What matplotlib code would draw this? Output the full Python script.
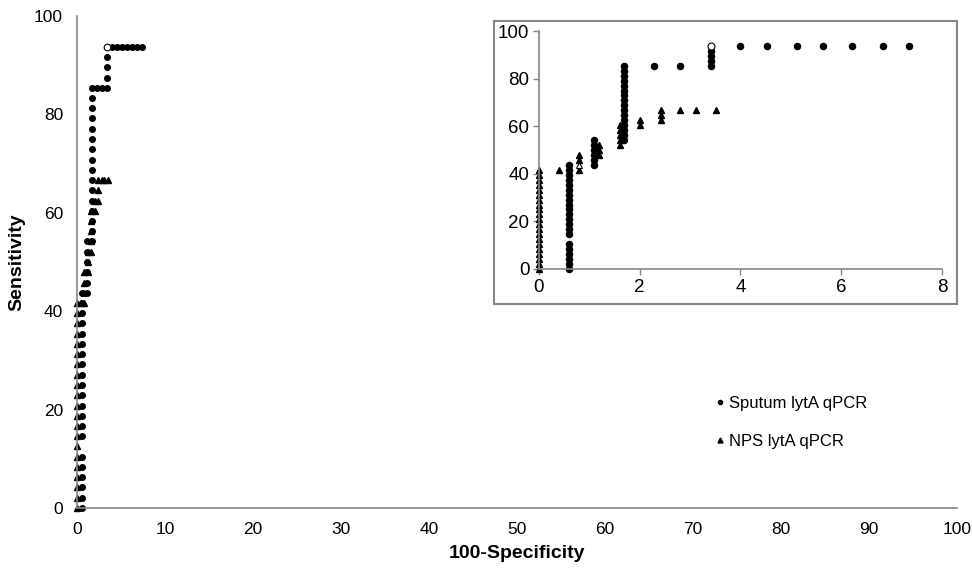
import matplotlib.pyplot as plt
from matplotlib.patches import Rectangle

plt.rcParams['font.family'] = ['Liberation Sans', 'DejaVu Sans']

# Sputum lytA qPCR (100-specificity, sensitivity)
sputum_x = [0.59] * 21 + [1.09] * 6 + [1.69] * 16 + [2.29, 2.8] + [3.42] * 4 + \
           [4.0, 4.52, 5.12, 5.63, 6.22, 6.82, 7.34]
sputum_y = [0, 2.08, 4.17, 6.25, 8.33, 10.42, 14.58, 16.67, 18.75, 20.83, 22.92,
            25.0, 27.08, 29.17, 31.25, 33.33, 35.42, 37.5, 39.58, 41.67, 43.75,
            43.75, 45.83, 47.92, 50.0, 52.08, 54.17,
            54.17, 56.25, 58.33, 60.42, 62.5, 64.58, 66.67, 68.75, 70.83, 72.92,
            75.0, 77.08, 79.17, 81.25, 83.33, 85.42,
            85.42, 85.42,
            85.42, 87.5, 89.58, 91.67,
            93.75, 93.75, 93.75, 93.75, 93.75, 93.75, 93.75]
sputum_cut = (3.42, 93.75)  # open circle

# NPS lytA qPCR
nps_x = [0] * 21 + [0.4] + [0.8] * 3 + [1.2] * 3 + [1.6] * 5 + [2.0] * 2 + \
        [2.42] * 3 + [2.8, 3.12, 3.52]
nps_y = [0, 2.08, 4.17, 6.25, 8.33, 10.42, 12.5, 14.58, 16.67, 18.75, 20.83,
         22.92, 25.0, 27.08, 29.17, 31.25, 33.33, 35.42, 37.5, 39.58, 41.67,
         41.67,
         41.67, 45.83, 47.92,
         47.92, 50.0, 52.08,
         52.08, 54.17, 56.25, 58.33, 60.42,
         60.42, 62.5,
         62.5, 64.58, 66.67,
         66.67, 66.67, 66.67]
nps_cut = (0.8, 43.75)  # open triangle

labels = ['Sputum lytA qPCR', 'NPS lytA qPCR']
gray = '#868686'

fig = plt.figure(figsize=(9.72, 5.7), dpi=100)

# main plot
ax = fig.add_axes([0.0792, 0.1088, 0.9054, 0.8631])
ax.plot(nps_x, nps_y, '^', color='black', ms=4.8, clip_on=False, label=labels[1])
ax.plot(*nps_cut, '^', mfc='white', mec='black', mew=0.8, ms=4.8, clip_on=False)
ax.plot(sputum_x, sputum_y, 'o', color='black', ms=4.0, clip_on=False, label=labels[0])
ax.plot(*sputum_cut, 'o', mfc='white', mec='black', mew=0.8, ms=4.8, clip_on=False)
ax.set_xlim(0, 100)
ax.set_ylim(0, 100)
ax.set_xticks(range(0, 101, 10))
ax.set_yticks(range(0, 101, 20))
ax.tick_params(length=0, pad=10, labelsize=12.5)
for s in ['top', 'right']:
    ax.spines[s].set_visible(False)
for s in ['left', 'bottom']:
    ax.spines[s].set_color(gray)
    ax.spines[s].set_linewidth(1.2)
ax.set_xlabel('100-Specificity', fontsize=14, fontweight='bold', labelpad=6)
ax.set_ylabel('Sensitivity', fontsize=14, fontweight='bold', labelpad=6)

handles, hl = ax.get_legend_handles_labels()
leg = ax.legend(handles[::-1], hl[::-1], loc='center left',
                bbox_to_anchor=(0.7356, 0.2588), bbox_transform=fig.transFigure,
                frameon=False, fontsize=12, handlelength=0.6, handletextpad=0.25,
                borderpad=0, borderaxespad=0, labelspacing=1.4, markerscale=0.75)

# inset frame
fig.patches.append(Rectangle((0.5082, 0.4667), 0.4763, 0.4965, transform=fig.transFigure,
                             facecolor='white', edgecolor=gray, lw=1.5, zorder=1))

# inset
ins = fig.add_axes([0.5545, 0.5281, 0.4146, 0.4175])
ins.set_zorder(2)
ins.patch.set_alpha(0)
ins.plot(nps_x, nps_y, '^', color='black', ms=5.0, clip_on=False)
ins.plot(*nps_cut, '^', mfc='white', mec='black', mew=0.8, ms=5.0, clip_on=False)
ins.plot(sputum_x, sputum_y, 'o', color='black', ms=4.4, clip_on=False)
ins.plot(*sputum_cut, 'o', mfc='white', mec='black', mew=0.8, ms=5.0, clip_on=False)
ins.set_xlim(0, 8)
ins.set_ylim(0, 100)
ins.set_xticks(range(0, 9, 2))
ins.set_yticks(range(0, 101, 20))
ins.tick_params(length=4, width=1, color=gray, pad=3, labelsize=13.5)
for s in ['top', 'right']:
    ins.spines[s].set_visible(False)
for s in ['left', 'bottom']:
    ins.spines[s].set_color(gray)
    ins.spines[s].set_linewidth(1.2)

fig.savefig('out.png', dpi=100)
